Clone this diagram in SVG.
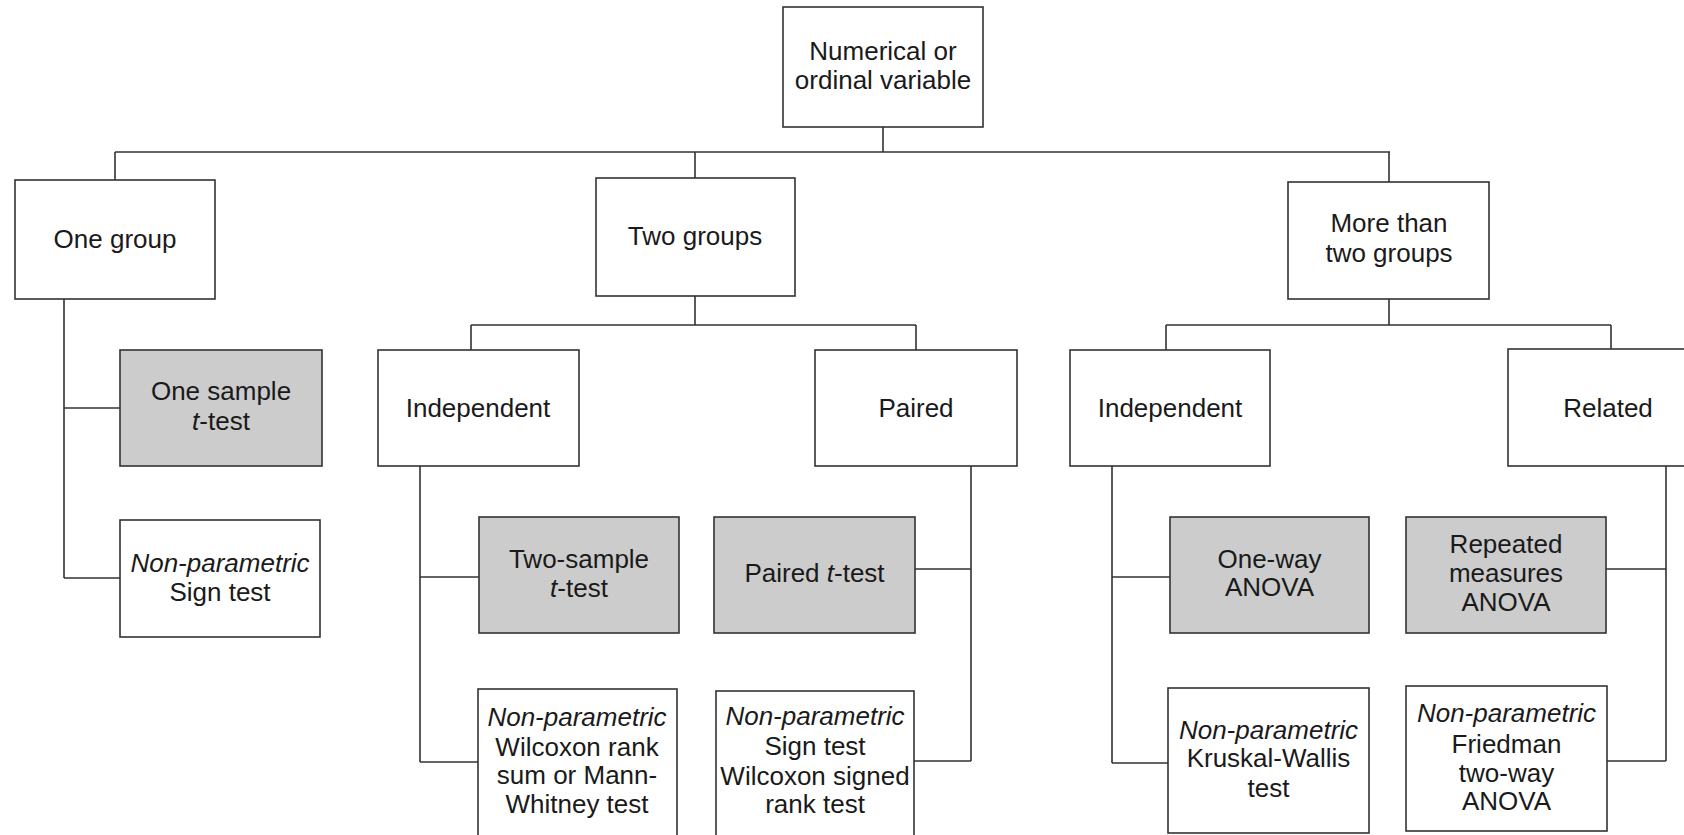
<svg xmlns="http://www.w3.org/2000/svg" width="1684" height="835" viewBox="0 0 1684 835">
<style>
.box{fill:#ffffff;stroke:#333333;stroke-width:1.6}
.grey{fill:#cccccc;stroke:#333333;stroke-width:1.6}
.conn path{fill:none;stroke:#333333;stroke-width:1.6}
text{font-family:"Liberation Sans",Arial,sans-serif;font-size:26px;fill:#1a1a1a;text-anchor:middle}
.it{font-style:italic}
</style>
<rect width="1684" height="835" fill="#ffffff"/>
<g class="conn" id="connectors">
<path d="M883,127V152M115,152H1390M115,152V180M695,152V178M1389,152V182"/>
<path d="M64,299V578M64,408H120M64,578H120"/>
<path d="M695,296V325M471,325H916M471,325V350M916,325V350"/>
<path d="M420,466V762M420,577H479M420,762H478"/>
<path d="M971,466V761M971,569H915M971,761H914"/>
<path d="M1389,299V325M1166,325H1611M1166,325V350M1611,325V349"/>
<path d="M1112,466V763M1112,577H1170M1112,763H1168"/>
<path d="M1666,466V761M1666,569H1606M1666,761H1607"/>
</g>
<g id="root"><rect class="box" x="783" y="7" width="200" height="120"/><text x="883" y="60">Numerical or</text><text x="883" y="89">ordinal variable</text></g>
<g id="one-group"><rect class="box" x="15" y="180" width="200" height="119"/><text x="115" y="248">One group</text></g>
<g id="two-groups"><rect class="box" x="596" y="178" width="199" height="118"/><text x="695" y="245">Two groups</text></g>
<g id="more-groups"><rect class="box" x="1288" y="182" width="201" height="117"/><text x="1389" y="232">More than</text><text x="1389" y="262">two groups</text></g>
<g id="independent-2"><rect class="box" x="378" y="350" width="201" height="116"/><text x="478" y="417">Independent</text></g>
<g id="paired"><rect class="box" x="815" y="350" width="202" height="116"/><text x="916" y="417">Paired</text></g>
<g id="independent-3"><rect class="box" x="1070" y="350" width="200" height="116"/><text x="1170" y="417">Independent</text></g>
<g id="related"><rect class="box" x="1508" y="349" width="200" height="117"/><text x="1608" y="417">Related</text></g>
<g id="one-sample-t"><rect class="grey" x="120" y="350" width="202" height="116"/><text x="221" y="400">One sample</text><text x="221" y="430"><tspan class="it">t</tspan>-test</text></g>
<g id="sign-test-1"><rect class="box" x="120" y="520" width="200" height="117"/><text x="220" y="572" class="it">Non-parametric</text><text x="220" y="601">Sign test</text></g>
<g id="two-sample-t"><rect class="grey" x="479" y="517" width="200" height="116"/><text x="579" y="568">Two-sample</text><text x="579" y="597"><tspan class="it">t</tspan>-test</text></g>
<g id="wilcoxon-rank-sum"><rect class="box" x="478" y="689" width="199" height="160"/><text x="577" y="726" class="it">Non-parametric</text><text x="577" y="756">Wilcoxon rank</text><text x="577" y="784">sum or Mann-</text><text x="577" y="813">Whitney test</text></g>
<g id="paired-t"><rect class="grey" x="714" y="517" width="201" height="116"/><text x="814.5" y="582">Paired <tspan class="it">t</tspan>-test</text></g>
<g id="sign-wilcoxon-signed"><rect class="box" x="716" y="691" width="198" height="160"/><text x="815" y="725" class="it">Non-parametric</text><text x="815" y="755">Sign test</text><text x="815" y="785">Wilcoxon signed</text><text x="815" y="813">rank test</text></g>
<g id="one-way-anova"><rect class="grey" x="1170" y="517" width="199" height="116"/><text x="1269.5" y="568">One-way</text><text x="1269.5" y="596">ANOVA</text></g>
<g id="kruskal-wallis"><rect class="box" x="1168" y="688" width="201" height="145"/><text x="1268.5" y="739" class="it">Non-parametric</text><text x="1268.5" y="767">Kruskal-Wallis</text><text x="1268.5" y="797">test</text></g>
<g id="repeated-anova"><rect class="grey" x="1406" y="517" width="200" height="116"/><text x="1506" y="553">Repeated</text><text x="1506" y="582">measures</text><text x="1506" y="611">ANOVA</text></g>
<g id="friedman"><rect class="box" x="1406" y="686" width="201" height="145"/><text x="1506.5" y="722" class="it">Non-parametric</text><text x="1506.5" y="753">Friedman</text><text x="1506.5" y="782">two-way</text><text x="1506.5" y="810">ANOVA</text></g>
</svg>
